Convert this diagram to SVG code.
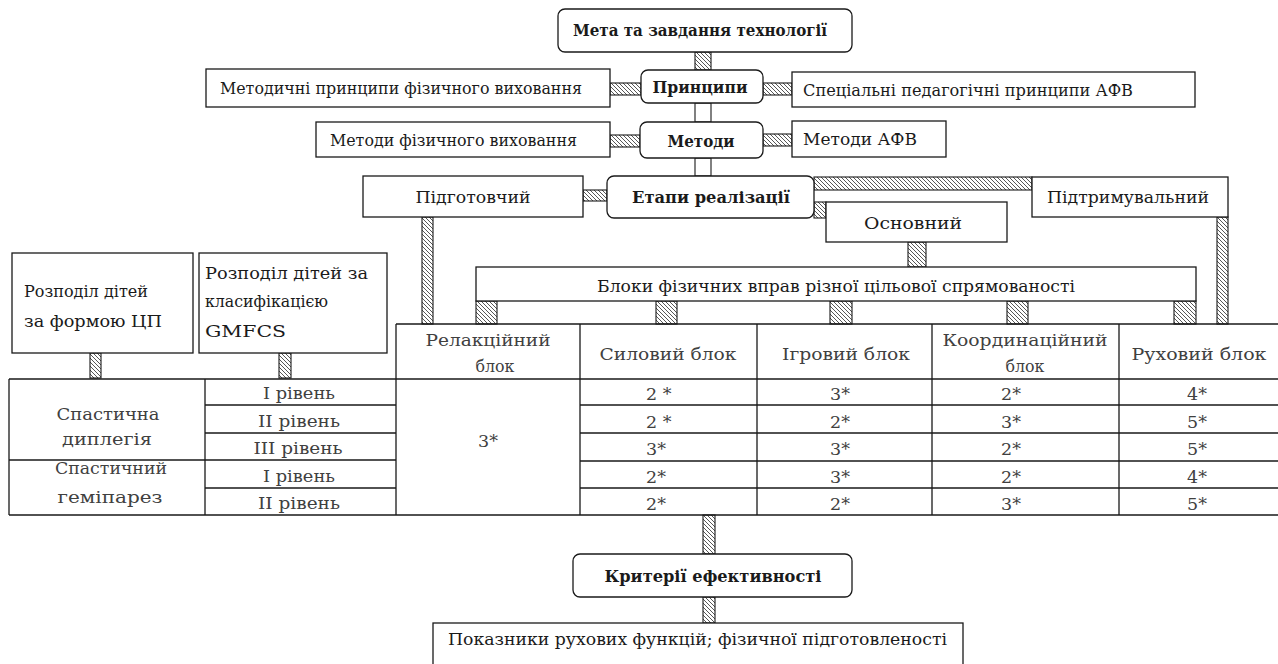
<svg xmlns="http://www.w3.org/2000/svg" width="1278" height="664" viewBox="0 0 1278 664">
<defs>
<pattern id="h" patternUnits="userSpaceOnUse" width="4" height="4">
<rect width="4" height="4" fill="#fff"/>
<path d="M-1,-1 L5,5 M-1,3 L1,5 M3,-1 L5,1" stroke="#444" stroke-width="0.9"/>
</pattern>
<style>
.bx{fill:#fff;stroke:#1a1a1a;stroke-width:1.3}
.hc{fill:url(#h);stroke:#1a1a1a;stroke-width:1.1}
.pc{fill:#fff;stroke:#1a1a1a;stroke-width:1.1}
.ln{stroke:#1a1a1a;stroke-width:1.3;fill:none}
text{font-family:"DejaVu Serif","Liberation Serif",serif;font-size:17.5px;fill:#1a1a1a}
.b{font-weight:bold;font-size:17px}
.c{text-anchor:middle}
.t{fill:#404040}
</style>
</defs>
<rect width="1278" height="664" fill="#fff"/>

<g id="connectors">
<rect class="hc" x="695" y="52" width="16" height="18"/>
<rect class="hc" x="610" y="83" width="31" height="12"/>
<rect class="hc" x="763" y="83" width="29" height="12"/>
<rect class="pc" x="695" y="103" width="16" height="19"/>
<rect class="hc" x="610" y="135" width="30" height="12"/>
<rect class="hc" x="763" y="134" width="29" height="12"/>
<rect class="pc" x="695" y="158" width="16" height="18"/>
<rect class="hc" x="583" y="190" width="24" height="11"/>
<rect class="hc" x="814" y="177" width="218" height="13"/>
<rect class="hc" x="814" y="202" width="12" height="16"/>
<rect class="hc" x="422" y="217" width="11" height="107"/>
<rect class="hc" x="1217" y="217" width="11" height="107"/>
<rect class="hc" x="908" y="242" width="18" height="25"/>
<rect class="hc" x="476" y="301" width="21" height="23"/>
<rect class="hc" x="656" y="301" width="21" height="23"/>
<rect class="hc" x="830" y="301" width="22" height="23"/>
<rect class="hc" x="1007" y="301" width="21" height="23"/>
<rect class="hc" x="1174" y="301" width="22" height="23"/>
<rect class="hc" x="90" y="353" width="11" height="25"/>
<rect class="hc" x="279" y="353" width="12" height="25"/>
<rect class="hc" x="703" y="515" width="12" height="39"/>
<rect class="hc" x="703" y="597" width="12" height="26"/>
</g>

<g id="n-meta">
<rect class="bx" x="558" y="9" width="294" height="43" rx="7"/>
<text class="b c" x="700" y="36" textLength="254" lengthAdjust="spacingAndGlyphs">Мета та завдання технології</text>
</g>
<g id="n-pryntsypy">
<rect class="bx" x="641" y="70" width="122" height="33" rx="7"/>
<text class="b c" x="700" y="93" textLength="95" lengthAdjust="spacingAndGlyphs">Принципи</text>
</g>
<g id="n-metod-pryntsypy">
<rect class="bx" x="206" y="69" width="404" height="38"/>
<text x="220" y="94" textLength="362" lengthAdjust="spacingAndGlyphs">Методичні принципи фізичного виховання</text>
</g>
<g id="n-spets-pryntsypy">
<rect class="bx" x="792" y="72" width="403" height="35"/>
<text x="803" y="96" textLength="330" lengthAdjust="spacingAndGlyphs">Спеціальні педагогічні принципи АФВ</text>
</g>
<g id="n-metody">
<rect class="bx" x="640" y="122" width="123" height="36" rx="7"/>
<text class="b c" x="701" y="147" textLength="67" lengthAdjust="spacingAndGlyphs">Методи</text>
</g>
<g id="n-metody-fv">
<rect class="bx" x="316" y="122" width="294" height="35"/>
<text x="330" y="146" textLength="247" lengthAdjust="spacingAndGlyphs">Методи фізичного виховання</text>
</g>
<g id="n-metody-afv">
<rect class="bx" x="792" y="121" width="154" height="36"/>
<text x="803" y="145" textLength="114" lengthAdjust="spacingAndGlyphs">Методи АФВ</text>
</g>
<g id="n-etapy">
<rect class="bx" x="607" y="176" width="207" height="42" rx="7"/>
<text class="b c" x="711" y="203" textLength="158" lengthAdjust="spacingAndGlyphs">Етапи реалізації</text>
</g>
<g id="n-pidgotovchyi">
<rect class="bx" x="363" y="176" width="220" height="41"/>
<text class="c" x="473" y="203" textLength="115" lengthAdjust="spacingAndGlyphs">Підготовчий</text>
</g>
<g id="n-pidtrymuvalnyi">
<rect class="bx" x="1032" y="177" width="196" height="40"/>
<text class="c" x="1128" y="203" textLength="162" lengthAdjust="spacingAndGlyphs">Підтримувальний</text>
</g>
<g id="n-osnovnyi">
<rect class="bx" x="826" y="202" width="181" height="40"/>
<text class="c" x="913" y="229" textLength="98" lengthAdjust="spacingAndGlyphs">Основний</text>
</g>
<g id="n-bloky">
<rect class="bx" x="476" y="267" width="720" height="34"/>
<text class="c" x="836" y="292" textLength="478" lengthAdjust="spacingAndGlyphs">Блоки фізичних вправ різної цільової спрямованості</text>
</g>
<g id="n-rozpodil-forma">
<rect class="bx" x="12" y="253" width="181" height="100"/>
<text x="24" y="297" textLength="124" lengthAdjust="spacingAndGlyphs">Розподіл дітей</text>
<text x="24" y="327" textLength="138" lengthAdjust="spacingAndGlyphs">за формою ЦП</text>
</g>
<g id="n-rozpodil-gmfcs">
<rect class="bx" x="199" y="253" width="188" height="100"/>
<text x="205" y="279" textLength="163" lengthAdjust="spacingAndGlyphs">Розподіл дітей за</text>
<text x="205" y="307" textLength="123" lengthAdjust="spacingAndGlyphs">класифікацією</text>
<text x="205" y="337" textLength="81" lengthAdjust="spacingAndGlyphs">GMFCS</text>
</g>

<g id="table">
<path class="ln" d="M396,324 H1278 M9,379 H1278 M9,515 H1278 M9,379 V515 M205,379 V515 M396,324 V515 M580,324 V515 M757,324 V515 M932,324 V515 M1119,324 V515 M9,460 H396 M205,405 H396 M205,433 H396 M205,488 H396 M580,405 H1278 M580,433 H1278 M580,461 H1278 M580,488 H1278"/>
<g class="t">
<text class="c t" x="488" y="346" textLength="125" lengthAdjust="spacingAndGlyphs">Релакційний</text>
<text class="c t" x="495" y="372" textLength="39" lengthAdjust="spacingAndGlyphs">блок</text>
<text class="c t" x="668" y="360" textLength="137" lengthAdjust="spacingAndGlyphs">Силовий блок</text>
<text class="c t" x="846" y="360" textLength="128" lengthAdjust="spacingAndGlyphs">Ігровий блок</text>
<text class="c t" x="1025" y="346" textLength="165" lengthAdjust="spacingAndGlyphs">Координаційний</text>
<text class="c t" x="1025" y="372" textLength="39" lengthAdjust="spacingAndGlyphs">блок</text>
<text class="c t" x="1199" y="360" textLength="135" lengthAdjust="spacingAndGlyphs">Руховий блок</text>

<text class="c t" x="108" y="420" textLength="103" lengthAdjust="spacingAndGlyphs">Спастична</text>
<text class="c t" x="107" y="445" textLength="90" lengthAdjust="spacingAndGlyphs">диплегія</text>
<text class="c t" x="111" y="474" textLength="112" lengthAdjust="spacingAndGlyphs">Спастичний</text>
<text class="c t" x="110" y="503" textLength="105" lengthAdjust="spacingAndGlyphs">геміпарез</text>

<text class="c t" x="299" y="399" textLength="72" lengthAdjust="spacingAndGlyphs">I рівень</text>
<text class="c t" x="299" y="427" textLength="82" lengthAdjust="spacingAndGlyphs">II рівень</text>
<text class="c t" x="298" y="454" textLength="89" lengthAdjust="spacingAndGlyphs">III рівень</text>
<text class="c t" x="299" y="482" textLength="72" lengthAdjust="spacingAndGlyphs">I рівень</text>
<text class="c t" x="299" y="509" textLength="82" lengthAdjust="spacingAndGlyphs">II рівень</text>

<text class="c t" x="488" y="447">3*</text>

<text class="t" x="646" y="400">2 *</text>
<text class="t" x="646" y="428">2 *</text>
<text class="t" x="646" y="455">3*</text>
<text class="t" x="646" y="483">2*</text>
<text class="t" x="646" y="510">2*</text>

<text class="c t" x="840" y="400">3*</text>
<text class="c t" x="840" y="428">2*</text>
<text class="c t" x="840" y="455">3*</text>
<text class="c t" x="840" y="483">3*</text>
<text class="c t" x="840" y="510">2*</text>

<text class="c t" x="1011" y="400">2*</text>
<text class="c t" x="1011" y="428">3*</text>
<text class="c t" x="1011" y="455">2*</text>
<text class="c t" x="1011" y="483">2*</text>
<text class="c t" x="1011" y="510">3*</text>

<text class="c t" x="1197" y="400">4*</text>
<text class="c t" x="1197" y="428">5*</text>
<text class="c t" x="1197" y="455">5*</text>
<text class="c t" x="1197" y="483">4*</text>
<text class="c t" x="1197" y="510">5*</text>
</g>
</g>

<g id="n-kryterii">
<rect class="bx" x="573" y="554" width="279" height="43" rx="7"/>
<text class="b c" x="713" y="582" textLength="217" lengthAdjust="spacingAndGlyphs">Критерії ефективності</text>
</g>
<g id="n-pokaznyky">
<rect class="bx" x="433" y="623" width="530" height="45"/>
<text x="448" y="645" textLength="499" lengthAdjust="spacingAndGlyphs">Показники рухових функцій; фізичної підготовленості</text>
</g>
</svg>
